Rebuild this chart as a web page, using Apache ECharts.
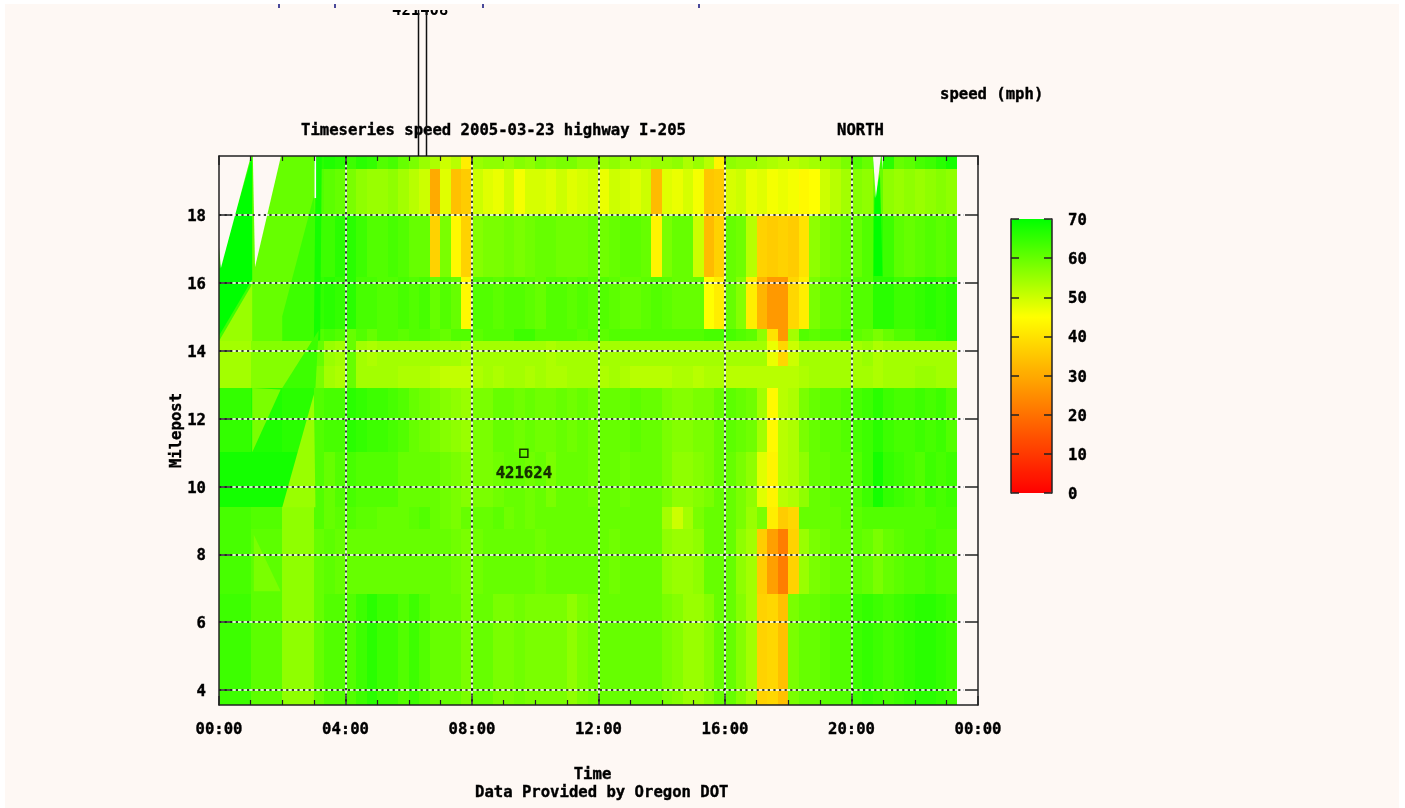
<!DOCTYPE html>
<html>
<head>
<meta charset="utf-8">
<style>
html,body{margin:0;padding:0;background:#fff;overflow:hidden}
#sheet{position:absolute;left:5px;top:4px;width:1394px;height:804px;background:#fef8f4}
#main{position:absolute;left:0;top:0;width:1405px;height:808px}
</style>
<script src="https://cdn.jsdelivr.net/npm/echarts@6/dist/echarts.min.js"></script>
</head>
<body>
<div id="sheet"></div>
<div id="main"></div>
<script>
const timeStepHours = 1 / 3;
const milepostEdges = [19.74, 19.36, 18.03, 16.17, 14.64, 14.29, 13.55, 12.90, 11.01, 9.39, 8.75, 6.83, 3.56];
const yTickMiles = [4, 6, 8, 10, 12, 14, 16, 18];
const scaleValues = [0, 10, 20, 30, 40, 50, 60, 70];
const palette = ['#ff0000','#ff1c00','#ff3900','#ff5500','#ff7100','#ff8e00','#ffaa00','#ffc600','#ffe300','#ffff00','#ccff00','#99ff00','#66ff00','#33ff00','#00ff00'];

const speedRow0 = [64,64,64,60,60,60,60,60,60,66,67,66, 64,66,65,62,63,60,58,55,53,50,52,42, 55,56,56,55,57,56,58,57,58,58,56,56, 55,56,54,55,54,55,55,56,53,55,52,43, 56,55,55,54,53,52,52,53,54,55,56,58, 62,60,64,66,60,61,63,64,66,68];
const speedRow1 = [64,64,64,60,60,60,60,60,60,62,61,60, 58,56,55,55,56,54,52,50,30,48,34,36, 50,48,47,50,46,49,49,48,50,48,49,50, 47,50,49,48,50,33,48,47,49,46,35,36, 49,50,47,48,46,47,46,44,45,50,52,54, 57,56,60,56,55,56,55,56,57,56];
const speedRow2 = [64,64,64,60,60,60,60,60,60,64,64,66, 66,64,62,62,63,62,60,60,37,58,44,37, 57,58,58,59,58,59,60,60,59,59,59,60, 59,60,61,61,60,43,58,60,60,50,33,37, 60,59,52,37,36,37,36,40,56,58,59,60, 60,62,66,64,61,60,61,62,61,62];
const speedRow3 = [64,64,64,60,60,60,60,60,60,65,66,65, 66,63,63,62,62,63,62,63,60,62,60,44, 62,62,61,62,62,61,60,62,62,61,62,61, 62,61,60,60,61,62,61,60,60,60,45,42, 60,57,42,32,27,27,38,42,58,60,60,61, 62,62,66,66,64,64,65,66,65,66];
const speedRow4 = [64,64,64,60,60,60,60,60,60,62,63,62, 60,62,60,62,62,61,62,62,61,60,62,62, 61,62,62,62,64,64,62,62,62,62,61,62, 61,62,62,62,62,62,62,62,62,62,63,63, 63,62,61,56,40,27,54,62,61,62,62,63, 61,60,58,60,62,62,64,64,65,66];
const speedRow5 = [54,54,54,57,57,57,57,57,57,60,55,54, 60,54,53,54,54,54,54,54,54,54,54,53, 54,54,54,54,54,54,54,53,54,54,54,54, 54,54,54,54,54,54,54,54,54,54,54,54, 54,54,54,54,47,38,50,54,54,54,54,54, 54,55,53,54,54,54,54,54,54,54];
const speedRow6 = [54,54,54,57,57,57,57,57,57,58,54,53, 60,54,54,54,54,53,53,53,52,51,51,51, 53,54,53,54,54,53,54,53,53,54,54,54, 53,54,53,52,52,52,52,53,53,52,53,53, 52,52,52,52,52,52,52,53,54,54,54,54, 54,54,53,54,54,54,55,55,54,54];
const speedRow7 = [65,65,65,67,67,67,66,66,66,62,63,63, 66,65,64,64,63,62,60,59,58,57,56,55, 58,58,60,60,59,60,59,59,60,59,60,59, 60,60,60,61,60,60,58,57,57,58,58,60, 61,60,59,54,44,52,53,58,60,61,61,62, 63,64,66,64,63,63,64,63,64,62];
const speedRow8 = [68,68,68,68,68,68,68,68,68,62,60,62, 63,62,62,62,62,60,60,60,60,59,58,57, 58,58,59,60,60,59,60,58,60,60,60,59, 60,60,59,60,60,60,58,56,56,57,58,60, 60,58,56,48,43,52,53,56,60,60,61,61, 62,64,68,65,64,63,62,64,63,64];
const speedRow9 = [63,63,63,62,62,62,56,56,56,62,60,61, 62,61,61,60,60,60,61,62,60,59,58,60, 60,60,61,59,60,59,60,60,60,60,60,60, 60,60,60,60,60,60,54,50,54,58,60,60, 60,58,55,58,42,36,38,60,60,60,60,61, 61,62,62,62,62,62,62,62,63,63];
const speedRow10 = [63,63,63,61,61,61,56,56,56,60,61,60, 60,60,60,60,60,60,60,60,60,60,59,58, 59,60,60,60,60,60,59,60,60,60,60,60, 60,59,60,60,60,60,56,55,55,56,60,60, 60,56,54,36,28,22,37,55,58,59,60,60, 61,60,58,60,61,62,62,63,62,62];
const speedRow11 = [64,64,64,61,61,61,56,56,56,60,62,62, 62,64,66,64,64,62,64,62,60,60,60,58, 60,60,58,58,59,58,58,58,58,56,58,59, 60,60,60,60,60,60,58,57,55,55,57,60, 60,57,54,37,38,34,58,60,60,61,62,62, 64,65,64,63,64,65,66,66,65,64];
const speedRows = [speedRow0,speedRow1,speedRow2,speedRow3,speedRow4,speedRow5,speedRow6,speedRow7,speedRow8,speedRow9,speedRow10,speedRow11];

// Sparse early-morning readings draw as slanted facets: [speed, [hour, milepost]...]
const facetPolys = [
  [70, [[1.05,19.74],[0,16.40],[0,14.44],[1.05,16.1]]],
  [55, [[0,14.29],[1.05,15.96],[1.05,14.29]]],
  [64, [[3,18.56],[2,15.02],[2,14.29],[3.16,14.29]]],
  [68, [[3.06,19.74],[3.25,19.74],[3.2,14.3],[3.0,14.3]]],
  [64, [[3.15,14.6],[2,12.9],[3.05,12.9]]],
  [58, [[1.95,12.86],[1.05,11.01],[1.05,12.9]]],
  [55, [[3,12.72],[2,9.39],[3.05,9.39]]],
  [58, [[1.1,8.58],[1.95,6.91],[1.1,6.91]]],
  [70, [[20.72,18.5],[20.9,19.2],[20.98,16.2],[20.7,16.2]]]
];
// Gaps with no data at all
const gapPolys = [
  [[0,19.74],[1.01,19.74],[0.06,16.44],[0,17.06]],
  [[1.07,19.74],[1.96,19.74],[1.14,16.47]],
  [[3.02,19.74],[3.07,19.74],[3.07,18.5],[3.02,18.5]],
  [[20.68,19.74],[20.93,19.74],[20.77,18.5]],
  [[20.96,19.74],[21.0,19.74],[20.98,19.33]]
];
const stations = [[9.64, 10.98]];
const stationLabels = ['421624'];

const FONT = '"DejaVu Sans Mono"';
const BG = '#fef8f4';
const INK = '#222';
const text = {fontFamily: FONT, fontWeight: 'bold', fontSize: 15.6, color: '#000', textBorderColor: '#000', textBorderWidth: 0.4};
const yMin = milepostEdges[12], yMax = milepostEdges[0];

const cells = [];
speedRows.forEach((row, r) => row.forEach((v, c) => {
  cells.push([c * timeStepHours, (c + 1) * timeStepHours, milepostEdges[r + 1], milepostEdges[r], v]);
}));

const chart = echarts.init(document.getElementById('main'), null, {renderer: 'canvas'});

const tickRect = (x) => ({type: 'rect', z: 21, shape: {x: x, y: 4, width: 2, height: 4}, style: {fill: '#4a4a9a'}});
const gridY = (pos, color, dash, z, w) => ({
  type: 'value', gridIndex: 0, min: yMin, max: yMax, position: pos, z: z,
  axisLine: {show: false}, splitLine: {show: false}, axisLabel: {show: false},
  axisTick: {show: true, inside: true, length: 745, customValues: yTickMiles, lineStyle: {color: color, width: w, type: dash}}
});

chart.setOption({
  animation: false,
  backgroundColor: 'transparent',
  grid: [
    {left: 219, top: 156, width: 759, height: 549},
    {left: 1011, top: 219, width: 41, height: 274}
  ],
  title: [
    {text: 'Timeseries speed 2005-03-23 highway I-205', left: 301, top: 123, padding: 0, textStyle: text},
    {text: 'NORTH', left: 837, top: 123, padding: 0, textStyle: text},
    {text: 'speed (mph)', left: 940, top: 87, padding: 0, textStyle: text},
    {text: 'Data Provided by Oregon DOT', left: 475, top: 785, padding: 0, textStyle: text}
  ],
  xAxis: [
    {type: 'value', gridIndex: 0, min: 0, max: 24, interval: 4, position: 'bottom', z: 6,
     name: 'Time', nameLocation: 'middle', nameGap: 62, nameTextStyle: Object.assign({padding: [0, 12, 0, 0]}, text),
     axisLine: {onZero: false, lineStyle: {color: INK, width: 1.5}},
     axisTick: {inside: true, length: 9, lineStyle: {color: INK, width: 1.5}},
     minorTick: {show: true, splitNumber: 4, length: 5, lineStyle: {color: INK, width: 1.2}},
     splitLine: {show: true, showMinLine: false, showMaxLine: false, lineStyle: {color: '#000', width: 1.5, type: [2.2, 3.4]}},
     axisLabel: {margin: 17, formatter: (v) => String(v % 24 === 0 ? 0 : v).padStart(2, '0') + ':00', showMinLabel: true, showMaxLabel: true, ...text}},
    {type: 'value', gridIndex: 0, min: 0, max: 24, interval: 4, position: 'top', z: 5,
     axisLine: {onZero: false, lineStyle: {color: INK, width: 1.5}},
     axisTick: {inside: true, length: 9, lineStyle: {color: INK, width: 1.5}},
     minorTick: {show: true, splitNumber: 4, length: 5, lineStyle: {color: INK, width: 1.2}},
     splitLine: {show: true, showMinLine: false, showMaxLine: false, lineStyle: {color: '#fff', width: 1.5}},
     axisLabel: {show: false}},
    {type: 'value', gridIndex: 1, min: 0, max: 1, show: false}
  ],
  yAxis: [
    {type: 'value', gridIndex: 0, min: yMin, max: yMax, position: 'left', z: 6,
     name: 'Milepost', nameLocation: 'middle', nameGap: 34, nameRotate: 90, nameMoveOverlap: false, nameTextStyle: text,
     axisLine: {onZero: false, lineStyle: {color: INK, width: 1.5}},
     axisTick: {inside: true, length: 13, customValues: yTickMiles, lineStyle: {color: INK, width: 1.5}},
     splitLine: {show: false},
     axisLabel: {margin: 13, customValues: yTickMiles, formatter: (v) => String(v), verticalAlign: 'top', lineHeight: 4, ...text}},
    {type: 'value', gridIndex: 0, min: yMin, max: yMax, position: 'right', z: 6,
     axisLine: {onZero: false, lineStyle: {color: INK, width: 1.5}},
     axisTick: {inside: true, length: 13, customValues: yTickMiles, lineStyle: {color: INK, width: 1.5}},
     splitLine: {show: false},
     axisLabel: {show: false}},
    {type: 'value', gridIndex: 1, min: 0, max: 70, interval: 10, position: 'right', z: 10,
     axisLine: {onZero: false, lineStyle: {color: INK, width: 1.5}},
     axisTick: {inside: true, length: 8, lineStyle: {color: INK, width: 1.5}},
     splitLine: {show: false},
     axisLabel: {margin: 16, verticalAlign: 'top', lineHeight: 4, formatter: (v) => scaleValues.includes(v) ? String(v) : '', ...text}},
    {type: 'value', gridIndex: 1, min: 0, max: 70, interval: 10, position: 'left', z: 10,
     axisLine: {onZero: false, lineStyle: {color: INK, width: 1.5}},
     axisTick: {inside: true, length: 8, lineStyle: {color: INK, width: 1.5}},
     splitLine: {show: false},
     axisLabel: {show: false}},
    gridY('left', '#fff', 'solid', 4, 1.5),
    gridY('left', '#000', [2.2, 3.4], 5, 1.5)
  ],
  visualMap: {
    type: 'continuous', min: 0, max: 70, dimension: 4, seriesIndex: [0, 1],
    left: 1011, top: 219, itemWidth: 41, itemHeight: 274, padding: 0, z: 4,
    calculable: false, hoverLink: false, text: ['', ''], textStyle: {fontSize: 0},
    inRange: {color: palette}
  },
  series: [
    {type: 'custom', name: 'speed', xAxisIndex: 0, yAxisIndex: 0, z: 1, silent: true, clip: true,
     data: cells, encode: {x: [0, 1], y: [2, 3]},
     renderItem: (params, api) => {
       const a = api.coord([api.value(0), api.value(2)]);
       const b = api.coord([api.value(1), api.value(3)]);
       const x0 = Math.round(a[0]), x1 = Math.round(b[0]), y0 = Math.round(b[1]), y1 = Math.round(a[1]);
       return {type: 'rect', shape: {x: x0, y: y0, width: x1 - x0, height: y1 - y0}, style: {fill: api.visual('color')}};
     }},
    {type: 'custom', name: 'facets', xAxisIndex: 0, yAxisIndex: 0, z: 2, silent: true, clip: true,
     data: facetPolys.map((p, i) => [i, 0, 0, 0, p[0]]),
     encode: {x: [], y: []},
     renderItem: (params, api) => ({
       type: 'polygon',
       shape: {points: facetPolys[params.dataIndex][1].map((q) => api.coord(q))},
       style: {fill: api.visual('color')}
     })},
    {type: 'custom', name: 'gaps', xAxisIndex: 0, yAxisIndex: 0, z: 3, silent: true, clip: true,
     data: gapPolys.map((p, i) => [i]),
     encode: {x: [], y: []},
     renderItem: (params, api) => ({
       type: 'polygon',
       shape: {points: gapPolys[params.dataIndex].map((q) => api.coord(q))},
       style: {fill: BG}
     })},
    {type: 'scatter', name: 'stations', xAxisIndex: 0, yAxisIndex: 0, z: 8, silent: true,
     data: stations, symbol: 'rect', symbolSize: 8,
     itemStyle: {color: 'transparent', borderColor: '#000', borderWidth: 1.5},
     label: {show: true, position: 'bottom', distance: 8, formatter: (p) => stationLabels[p.dataIndex], ...text}}
  ],
  graphic: [
    {type: 'text', z: 17, left: 392, top: 3, style: {text: '421408', fill: '#000', font: 'bold 15.6px ' + FONT}},
    {type: 'rect', z: 19, shape: {x: 385, y: 4, width: 70, height: 6}, style: {fill: BG}},
    {type: 'rect', z: 19, shape: {x: 385, y: 0, width: 70, height: 4}, style: {fill: '#fff'}},
    {type: 'line', z: 21, shape: {x1: 418.5, y1: 10, x2: 418.5, y2: 156}, style: {stroke: '#111', lineWidth: 1.5}},
    {type: 'line', z: 21, shape: {x1: 426.5, y1: 10, x2: 426.5, y2: 156}, style: {stroke: '#111', lineWidth: 1.5}},
    tickRect(278), tickRect(334), tickRect(482), tickRect(698)
  ]
});
</script>
</body>
</html>
